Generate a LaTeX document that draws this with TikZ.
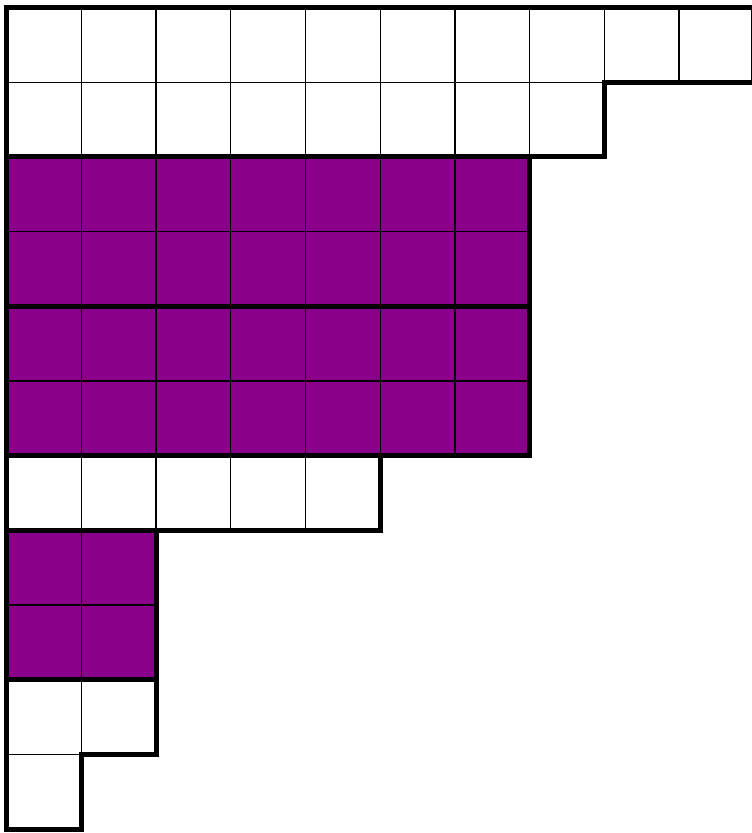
\documentclass[tikz,border=0pt]{standalone}
\definecolor{youngpurple}{RGB}{139,0,139}
\tikzset{
  thinline/.style={draw=black, line width=0.5pt},
  thickline/.style={draw=black, line width=1.9pt, line cap=rect, line join=miter},
  purplefill/.style={fill=youngpurple}
}
\begin{document}
\begin{tikzpicture}[x=1cm,y=1cm]
\useasboundingbox (-0.0897,0.1004) rectangle (9.964,-11.051);
% purple blocks
\fill[purplefill] (0,-2) rectangle (7,-6);
\fill[purplefill] (0,-7) rectangle (2,-9);
% thin grid
\foreach \r/\n in {1/10,2/8,3/7,4/7,5/7,6/7,7/5,8/2,9/2,10/2,11/1}{
  \foreach \c in {1,...,\n}{
    \draw[thinline] (\c-1,-\r+1) rectangle (\c,-\r);
  }
}
% thick separators
\draw[thickline] (0,-2) -- (8,-2);
\draw[thickline] (0,-4) -- (7,-4);
\draw[thickline] (0,-6) -- (7,-6);
\draw[thickline] (0,-7) -- (5,-7);
\draw[thickline] (0,-9) -- (2,-9);
% outer boundary
\draw[thickline] (0,0) -- (10,0) -- (10,-1) -- (8,-1) -- (8,-2) -- (7,-2) -- (7,-6) -- (5,-6) -- (5,-7) -- (2,-7) -- (2,-10) -- (1,-10) -- (1,-11) -- (0,-11) -- cycle;
\end{tikzpicture}
\end{document}
